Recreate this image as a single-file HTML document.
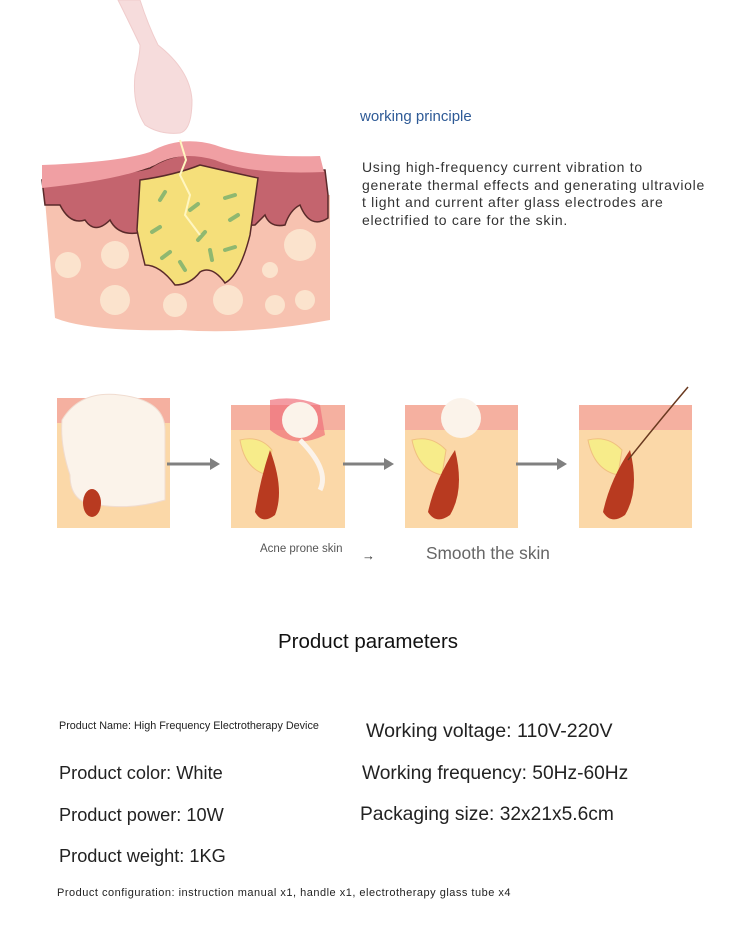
<!DOCTYPE html>
<html><head><meta charset="utf-8"><style>
body{margin:0;width:750px;height:944px;background:#fff;position:relative;overflow:hidden;font-family:"Liberation Sans",sans-serif}
.t{position:absolute;white-space:nowrap;color:#222}
</style></head><body>
<svg width="750" height="944" style="position:absolute;left:0;top:0">
<path d="M118,0 L140,0 Q148,25 158,45 Q190,70 192,100 Q192,130 180,133 Q160,135 145,125 Q132,105 135,75 Q140,55 140,45 Q128,20 118,0Z" fill="#f6dcdc" stroke="#f0cccc"/>
<path d="M45,200 L330,195 L330,320 Q250,335 180,330 Q90,332 55,318 Z" fill="#f7c2b0"/>
<path d="M42,180 Q120,176 150,168 Q180,148 215,158 Q250,172 325,170 L328,195 L328,218 Q310,230 300,205 Q290,210 285,225 Q270,228 265,215 L255,225 L150,230 Q120,240 110,220 Q95,235 85,220 Q70,225 60,205 L45,205 Z" fill="#c4646e" stroke="#5a2a2a" stroke-width="1.5"/>
<path d="M42,165 Q120,162 150,152 Q180,135 215,145 Q250,158 320,156 L324,172 Q250,175 215,160 Q180,150 155,165 Q120,180 42,188 Z" fill="#f09fa3"/>
<g fill="#fbe3cd"><circle cx="68" cy="265" r="13"/><circle cx="115" cy="255" r="14"/><circle cx="300" cy="245" r="16"/><circle cx="270" cy="270" r="8"/><circle cx="115" cy="300" r="15"/><circle cx="175" cy="305" r="12"/><circle cx="228" cy="300" r="15"/><circle cx="275" cy="305" r="10"/><circle cx="305" cy="300" r="10"/></g>
<path d="M140,180 Q175,175 200,165 Q230,172 258,178 L250,235 Q240,275 225,283 Q212,265 200,272 Q190,285 175,285 Q160,265 145,265 Q140,245 137,230 Z" fill="#f5df7a" stroke="#5a2a2a" stroke-width="1.5"/>
<g stroke="#8fb870" stroke-width="4" stroke-linecap="round"><line x1="160" y1="200" x2="165" y2="192"/><line x1="190" y1="210" x2="198" y2="204"/><line x1="225" y1="198" x2="235" y2="195"/><line x1="152" y1="232" x2="160" y2="227"/><line x1="198" y1="240" x2="205" y2="232"/><line x1="230" y1="220" x2="238" y2="215"/><line x1="162" y1="258" x2="170" y2="252"/><line x1="210" y1="250" x2="212" y2="260"/><line x1="225" y1="250" x2="235" y2="247"/><line x1="180" y1="262" x2="185" y2="270"/></g>
<path d="M180,140 L186,160 L180,175 L190,195 L185,215 L200,235" stroke="#fff6c0" stroke-width="2" fill="none"/>
<g>
<rect x="57" y="398" width="113" height="130" fill="#fbd8a8"/><rect x="57" y="398" width="113" height="25" fill="#f5b0a0"/><path d="M62,420 Q80,390 120,395 Q165,400 165,430 L165,500 Q130,510 100,505 Q70,505 70,475 Q60,445 62,420Z" fill="#fbf3ea" stroke="#f0dcd0"/><ellipse cx="92" cy="503" rx="9" ry="14" fill="#b83a20"/>
</g>
<g>
<rect x="231" y="405" width="114" height="123" fill="#fbd8a8"/><rect x="231" y="405" width="114" height="25" fill="#f5b0a0"/><path d="M270,400 Q295,395 320,405 L325,435 Q295,450 270,430Z" fill="#f0707a" opacity=".7"/><circle cx="300" cy="420" r="18" fill="#fbf3ea"/><path d="M240,440 Q260,435 272,450 L268,475 Q245,470 240,440Z" fill="#f7ec8a" stroke="#f0c080"/><path d="M270,450 Q285,490 275,515 Q262,525 255,512 Q260,480 270,450Z" fill="#b83a20"/><path d="M300,440 Q330,470 320,490" stroke="#fbf3ea" stroke-width="5" fill="none"/>
</g>
<g>
<rect x="405" y="405" width="113" height="123" fill="#fbd8a8"/><rect x="405" y="405" width="113" height="25" fill="#f5b0a0"/><circle cx="461" cy="418" r="20" fill="#fbf3ea"/><path d="M412,440 Q432,435 446,450 L442,475 Q418,470 412,440Z" fill="#f7ec8a" stroke="#f0c080"/><path d="M455,450 Q465,490 450,515 Q436,525 428,512 Q435,480 455,450Z" fill="#b83a20"/>
</g>
<g>
<rect x="579" y="405" width="113" height="123" fill="#fbd8a8"/><rect x="579" y="405" width="113" height="25" fill="#f5b0a0"/><path d="M588,440 Q608,435 622,450 L618,475 Q594,470 588,440Z" fill="#f7ec8a" stroke="#f0c080"/><path d="M630,450 Q640,490 625,515 Q611,525 603,512 Q610,480 630,450Z" fill="#b83a20"/><path d="M628,460 Q660,420 688,387" stroke="#6a3a20" stroke-width="1.5" fill="none"/>
</g>
<g stroke="#808080" stroke-width="3" fill="#808080"><line x1="167" y1="464" x2="212" y2="464"/><line x1="343" y1="464" x2="385" y2="464"/><line x1="516" y1="464" x2="558" y2="464"/></g>
<g fill="#808080"><path d="M220,464 L210,458 L210,470Z"/><path d="M394,464 L384,458 L384,470Z"/><path d="M567,464 L557,458 L557,470Z"/></g>
</svg>
<div class="t" style="left:360px;top:108px;font-size:15px;color:#2e5a96">working principle</div>
<div class="t" style="left:362px;top:159px;font-size:14px;line-height:17.5px;color:#333;letter-spacing:0.7px">Using high-frequency current vibration to<br>generate thermal effects and generating ultraviole<br>t light and current after glass electrodes are<br>electrified to care for the skin.</div>
<div class="t" style="left:260px;top:543px;font-size:11.5px;color:#555">Acne prone skin</div>
<div class="t" style="left:362px;top:548px;font-size:13px;color:#333">→</div>
<div class="t" style="left:426px;top:543px;font-size:17.3px;color:#666">Smooth the skin</div>
<div class="t" style="left:278px;top:630px;font-size:20.5px;color:#111">Product parameters</div>
<div class="t" style="left:59px;top:720px;font-size:10.8px">Product Name: High Frequency Electrotherapy Device</div>
<div class="t" style="left:366px;top:720px;font-size:19.6px">Working voltage: 110V-220V</div>
<div class="t" style="left:59px;top:763px;font-size:18.2px">Product color: White</div>
<div class="t" style="left:362px;top:763px;font-size:19.2px">Working frequency: 50Hz-60Hz</div>
<div class="t" style="left:59px;top:805px;font-size:18.2px">Product power: 10W</div>
<div class="t" style="left:360px;top:804px;font-size:19.2px">Packaging size: 32x21x5.6cm</div>
<div class="t" style="left:59px;top:846px;font-size:18.2px">Product weight: 1KG</div>
<div class="t" style="left:57px;top:887px;font-size:11px;letter-spacing:0.5px">Product configuration: instruction manual x1, handle x1, electrotherapy glass tube x4</div>
</body></html>
